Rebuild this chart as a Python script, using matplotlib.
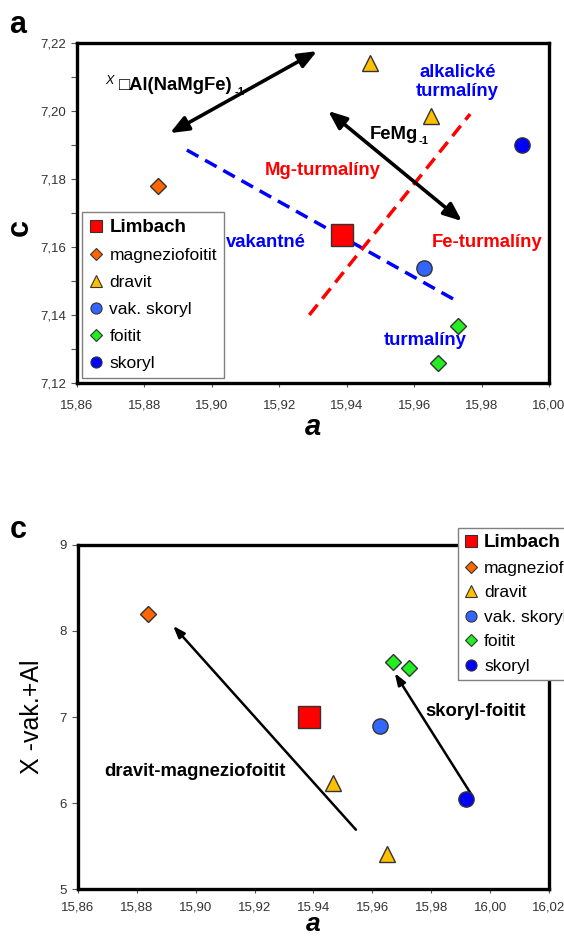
import numpy as np
import matplotlib.pyplot as plt
from matplotlib.lines import Line2D

plt.rcParams['font.family'] = ['Liberation Sans', 'DejaVu Sans']

# skupiny turmalinov
labels = ['Limbach', 'magneziofoitit', 'dravit', 'vak. skoryl', 'foitit', 'skoryl']
markers = ['s', 'D', '^', 'o', 'D', 'o']
colors = ['#ff0000', '#ff6600', '#ffc000', '#3366ff', '#22ee22', '#0000ff']
msizes = [16, 8, 12, 11, 8, 11]
leg_sizes = [8, 6, 9, 8, 6, 8]

# graf a: mriezkove parametre a / c
a_top = [[15.9385], [15.884], [15.947, 15.965], [15.963], [15.973, 15.967], [15.992]]
c_top = [[7.1635], [7.178], [7.2141, 7.1985], [7.1538], [7.1368, 7.1259], [7.190]]

# graf c: a / X-vak.+Al
a_bot = [[15.9384], [15.8838], [15.9466, 15.965], [15.9625], [15.967, 15.9725], [15.9918]]
xal_bot = [[7.00], [8.20], [6.23, 5.41], [6.90], [7.64, 7.57], [6.05]]

xt_top = [15.86, 15.88, 15.90, 15.92, 15.94, 15.96, 15.98, 16.00]
xt_top_lab = ['15,86', '15,88', '15,90', '15,92', '15,94', '15,96', '15,98', '16,00']
yt_top = [7.12, 7.14, 7.16, 7.18, 7.20, 7.22]
yt_top_lab = ['7,12', '7,14', '7,16', '7,18', '7,20', '7,22']
xt_bot = [15.86, 15.88, 15.90, 15.92, 15.94, 15.96, 15.98, 16.00, 16.02]
xt_bot_lab = ['15,86', '15,88', '15,90', '15,92', '15.94', '15,96', '15,98', '16,00', '16,02']
yt_bot = [5, 6, 7, 8, 9]

# trendy (ciary a sipky)
blue_line = ([15.8926, 15.9716], [7.1885, 7.1447])
red_line = ([15.9289, 15.9766], [7.1400, 7.1991])
arr_vak = ((15.8876, 7.1935), (15.9312, 7.2176))
arr_femg = ((15.9345, 7.2000), (15.9742, 7.1676))
arr_dm = ((15.9544, 5.69), (15.8923, 8.06))
arr_sf = ((15.9938, 6.09), (15.9676, 7.51))

fig = plt.figure(figsize=(5.64, 9.38), dpi=100)
ax1 = fig.add_axes([0.1365, 0.5917, 0.8369, 0.3625])
ax2 = fig.add_axes([0.1383, 0.0522, 0.8351, 0.3668])


def style_axes(ax, xpad):
    for s in ax.spines.values():
        s.set_linewidth(2.4)
        s.set_color('black')
    ax.tick_params(which='both', direction='out', length=4, width=0.8,
                   color='#555555', labelcolor='#333333', labelsize=9.5)
    ax.tick_params(axis='y', pad=4)
    ax.tick_params(axis='x', length=3, pad=xpad)


def handles():
    h = []
    for lab, m, c, s in zip(labels, markers, colors, leg_sizes):
        h.append(Line2D([], [], ls='none', marker=m, mfc=c, mec='#333333',
                        mew=0.8, ms=s, label=lab))
    return h


# --- graf a ---
for xs, ys, m, c, s in zip(a_top, c_top, markers, colors, msizes):
    ax1.plot(xs, ys, ls='none', marker=m, mfc=c, mec='#333333', mew=1, ms=s, zorder=5)

ax1.plot(*blue_line, color='#0000ff', lw=2.5, ls=(0, (3.8, 2.2)), zorder=3)
ax1.plot(*red_line, color='#ff0000', lw=2.5, ls=(0, (3.8, 2.2)), zorder=3)
for p1, p2 in (arr_vak, arr_femg):
    ax1.annotate('', xy=p2, xytext=p1,
                 arrowprops=dict(arrowstyle='<|-|>,head_length=1.1,head_width=0.45',
                                 lw=2.6, color='black', shrinkA=0, shrinkB=0))

ax1.set_xlim(15.86, 16.00)
ax1.set_ylim(7.12, 7.22)
ax1.set_xticks(xt_top)
ax1.set_xticklabels(xt_top_lab)
ax1.set_yticks(yt_top)
ax1.set_yticklabels(yt_top_lab)
ax1.set_yticks(np.arange(7.13, 7.22, 0.02), minor=True)
style_axes(ax1, 9)
ax1.set_xlabel('a', fontsize=21, fontweight='bold', style='italic', labelpad=1)
ax1.set_ylabel('c', fontsize=22, fontweight='bold')
ax1.yaxis.set_label_coords(-0.089, 0.456)

tb = dict(fontsize=13.3, fontweight='bold', ha='center', va='center')
t_vak = ax1.text(15.8725, 7.2076, '□Al(NaMgFe)', fontsize=13.3, fontweight='bold',
                 ha='left', va='center')
ax1.annotate('X', xy=(0, 1), xycoords=t_vak, xytext=(-7, -3), textcoords='offset points',
             fontsize=9, style='italic', ha='center', va='center')
ax1.annotate('-1', xy=(1, 0), xycoords=t_vak, xytext=(5, 1), textcoords='offset points',
             fontsize=8, fontweight='bold', ha='center', va='center')
t_femg = ax1.text(15.9467, 7.1932, 'FeMg', fontsize=13.3, fontweight='bold',
                  ha='left', va='center')
ax1.annotate('-1', xy=(1, 0), xycoords=t_femg, xytext=(4, 1), textcoords='offset points',
             fontsize=8, fontweight='bold', ha='center', va='center')
ax1.text(15.9728, 7.2085, 'alkalické\nturmalíny', color='#0000ff', linespacing=1.1, **tb)
ax1.text(15.9330, 7.1824, 'Mg-turmalíny', color='#ff0000', **tb)
ax1.text(15.9160, 7.1612, 'vakantné', color='#0000ff', **tb)
ax1.text(15.9817, 7.1612, 'Fe-turmalíny', color='#ff0000', **tb)
ax1.text(15.9633, 7.1326, 'turmalíny', color='#0000ff', **tb)

leg1 = ax1.legend(handles=handles(), loc='lower left', bbox_to_anchor=(0.01, 0.015),
                  fontsize=12.5, frameon=True, fancybox=False, edgecolor='#808080',
                  framealpha=1, handlelength=0.8, handletextpad=0.4,
                  labelspacing=0.68, borderpad=0.4, borderaxespad=0)
leg1.get_frame().set_linewidth(1.0)
leg1.get_texts()[0].set_fontweight('bold')
leg1.get_texts()[0].set_fontsize(13.5)

# --- graf c ---
for xs, ys, m, c, s in zip(a_bot, xal_bot, markers, colors, msizes):
    ax2.plot(xs, ys, ls='none', marker=m, mfc=c, mec='#333333', mew=1, ms=s, zorder=5)

for p1, p2 in (arr_dm, arr_sf):
    ax2.annotate('', xy=p2, xytext=p1,
                 arrowprops=dict(arrowstyle='-|>,head_length=0.7,head_width=0.25',
                                 lw=1.8, color='black', shrinkA=0, shrinkB=0))
ax2.text(15.8997, 6.37, 'dravit-magneziofoitit', **tb)
ax2.text(15.9950, 7.06, 'skoryl-foitit', **tb)

ax2.set_xlim(15.86, 16.02)
ax2.set_ylim(5, 9)
ax2.set_xticks(xt_bot)
ax2.set_xticklabels(xt_bot_lab)
ax2.set_yticks(yt_bot)
style_axes(ax2, 6)
ax2.set_ylabel('X -vak.+Al', fontsize=18)
ax2.yaxis.set_label_coords(-0.072, 0.5)
# popis osi x dole - tesne pod cislami ako v originali
fig.text(0.555, 1 - 931 / 938, 'a', fontsize=19, fontweight='bold', style='italic',
         ha='center', va='baseline')

leg2 = ax2.legend(handles=handles(), loc='upper left', bbox_to_anchor=(458 / 564, 1 - 528 / 938),
                  bbox_transform=fig.transFigure,
                  fontsize=12.5, frameon=True, fancybox=False, edgecolor='#808080',
                  framealpha=1, handlelength=0.8, handletextpad=0.35,
                  labelspacing=0.54, borderpad=0.35, borderaxespad=0)
leg2.get_frame().set_linewidth(1.0)
leg2.get_texts()[0].set_fontweight('bold')
leg2.get_texts()[0].set_fontsize(13.5)

fig.text(18 / 564, 1 - 25 / 938, 'a', fontsize=22, fontweight='bold', ha='center', va='center')
fig.text(18 / 564, 1 - 530 / 938, 'c', fontsize=22, fontweight='bold', ha='center', va='center')

fig.savefig('out.png', dpi=100)
